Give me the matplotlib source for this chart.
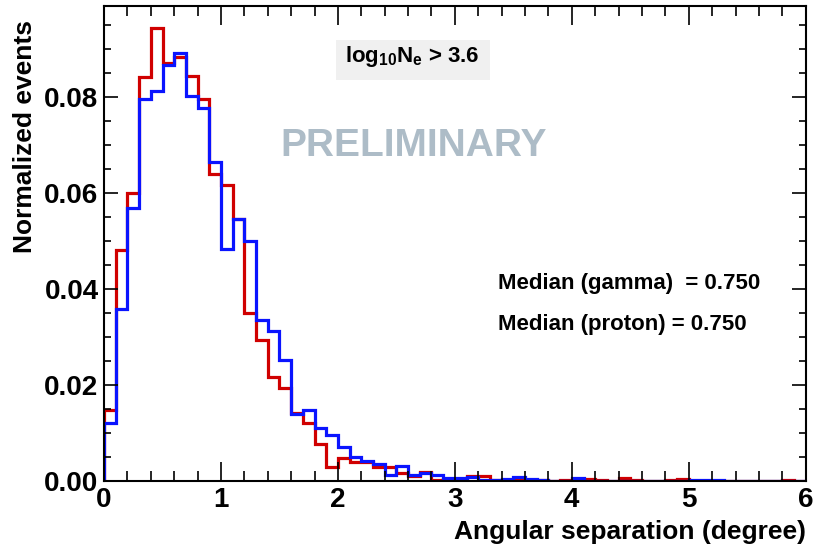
#!/usr/bin/env python3

# angular separation histograms, gamma vs proton

import numpy as np
import matplotlib

matplotlib.use("Agg")
import matplotlib.pyplot as plt
from matplotlib.patches import Rectangle
from matplotlib.ticker import MultipleLocator, FormatStrFormatter

params = {
    "font.family": ["Liberation Sans", "DejaVu Sans"],
    "font.weight": "bold",
    "mathtext.fontset": "custom",
    "mathtext.rm": "Liberation Sans:bold",
    "mathtext.it": "Liberation Sans:bold",
    "mathtext.bf": "Liberation Sans:bold",
    "axes.linewidth": 1.5,
    "xtick.direction": "in",
    "ytick.direction": "in",
    "xtick.top": True,
    "ytick.right": True,
    "xtick.labelsize": 20,
    "ytick.labelsize": 20,
    "axes.labelsize": 19,
    "axes.labelweight": "bold",
}
plt.rcParams.update(params)

# bins of 0.1 degree from 0 to 6
bin_edges = np.round(np.arange(61) * 0.1, 1)

# gamma (red)
gamma = [
    0.0149, 0.0483, 0.0600, 0.0842, 0.0944, 0.0872, 0.0885, 0.0844, 0.0796, 0.0640,
    0.0617, 0.0546, 0.0350, 0.0294, 0.0218, 0.0194, 0.0143, 0.0121, 0.0079, 0.0030,
    0.0048, 0.0041, 0.0041, 0.0030, 0.0030, 0.0017, 0.0011, 0.0020, 0.0004, 0.0006,
    0.0006, 0.0011, 0.0011, 0.0003, 0.0000, 0.0004, 0.0004, 0.0004, 0.0001, 0.0003,
    0.0003, 0.0006, 0.0004, 0.0001, 0.0008, 0.0003, 0.0000, 0.0000, 0.0003, 0.0005,
    0.0000, 0.0000, 0.0000, 0.0000, 0.0001, 0.0000, 0.0000, 0.0001, 0.0003, 0.0000,
]

# proton (blue)
proton = [
    0.0121, 0.0360, 0.0569, 0.0797, 0.0814, 0.0867, 0.0892, 0.0803, 0.0777, 0.0665,
    0.0485, 0.0546, 0.0501, 0.0337, 0.0313, 0.0254, 0.0140, 0.0149, 0.0112, 0.0096,
    0.0072, 0.0051, 0.0043, 0.0037, 0.0013, 0.0032, 0.0013, 0.0017, 0.0013, 0.0008,
    0.0008, 0.0010, 0.0003, 0.0003, 0.0006, 0.0010, 0.0005, 0.0004, 0.0001, 0.0001,
    0.0008, 0.0000, 0.0000, 0.0001, 0.0000, 0.0000, 0.0000, 0.0000, 0.0000, 0.0000,
    0.0003, 0.0003, 0.0003, 0.0000, 0.0001, 0.0000, 0.0000, 0.0000, 0.0000, 0.0000,
]

median_gamma = 0.750
median_proton = 0.750
cut_label = r"log$_{\mathrm{10}}$N$_{\mathrm{e}}$ > 3.6"


def main():
    fig = plt.figure(figsize=(8.13, 5.56), dpi=100)
    ax = fig.add_axes([0.128, 0.134, 0.863, 0.855])

    ax.stairs(gamma, bin_edges, color="#d00000", lw=2.3)
    ax.stairs(proton, bin_edges, color="#0a14ff", lw=2.3)

    ax.set_xlim(0, 6)
    ax.set_ylim(0, 0.099)

    ax.xaxis.set_major_locator(MultipleLocator(1))
    ax.xaxis.set_minor_locator(MultipleLocator(0.2))
    ax.yaxis.set_major_locator(MultipleLocator(0.02))
    ax.yaxis.set_minor_locator(MultipleLocator(0.005))
    ax.yaxis.set_major_formatter(FormatStrFormatter("%.2f"))

    ax.tick_params(axis="x", which="major", length=14, width=1.2, pad=4)
    ax.tick_params(axis="x", which="minor", length=7, width=1.2, top=True)
    ax.tick_params(axis="y", which="major", length=10, width=1.2, pad=4)
    ax.tick_params(axis="y", which="minor", length=5, width=1.2, right=True)

    ax.set_xlabel("Angular separation (degree)", loc="right")
    ax.set_ylabel("Normalized events", loc="top")
    ax.xaxis.set_label_coords(1.0, -0.082)
    ax.yaxis.set_label_coords(-0.0954, 0.9706)

    # cut label in grey box
    ax.add_patch(Rectangle((0.3305, 0.8444), 0.2194, 0.0841,
                           transform=ax.transAxes, fc="#f0f0f0", ec="none"))
    ax.text(
        0.440, 0.882, cut_label,
        transform=ax.transAxes, ha="center", va="baseline",
        fontsize=16, fontweight="bold",
    )

    ax.text(
        0.4416, 0.706, "PRELIMINARY",
        transform=ax.transAxes, ha="center", va="center",
        fontsize=28, fontweight="bold", color="#adbcc7",
    )

    ax.text(
        0.561, 0.4175, "Median (gamma)  = {:.3f}".format(median_gamma),
        transform=ax.transAxes, ha="left", va="center", fontsize=16,
    )
    ax.text(
        0.561, 0.331, "Median (proton) = {:.3f}".format(median_proton),
        transform=ax.transAxes, ha="left", va="center", fontsize=16,
    )

    fig.savefig("out.png", dpi=100)


if __name__ == "__main__":
    main()
